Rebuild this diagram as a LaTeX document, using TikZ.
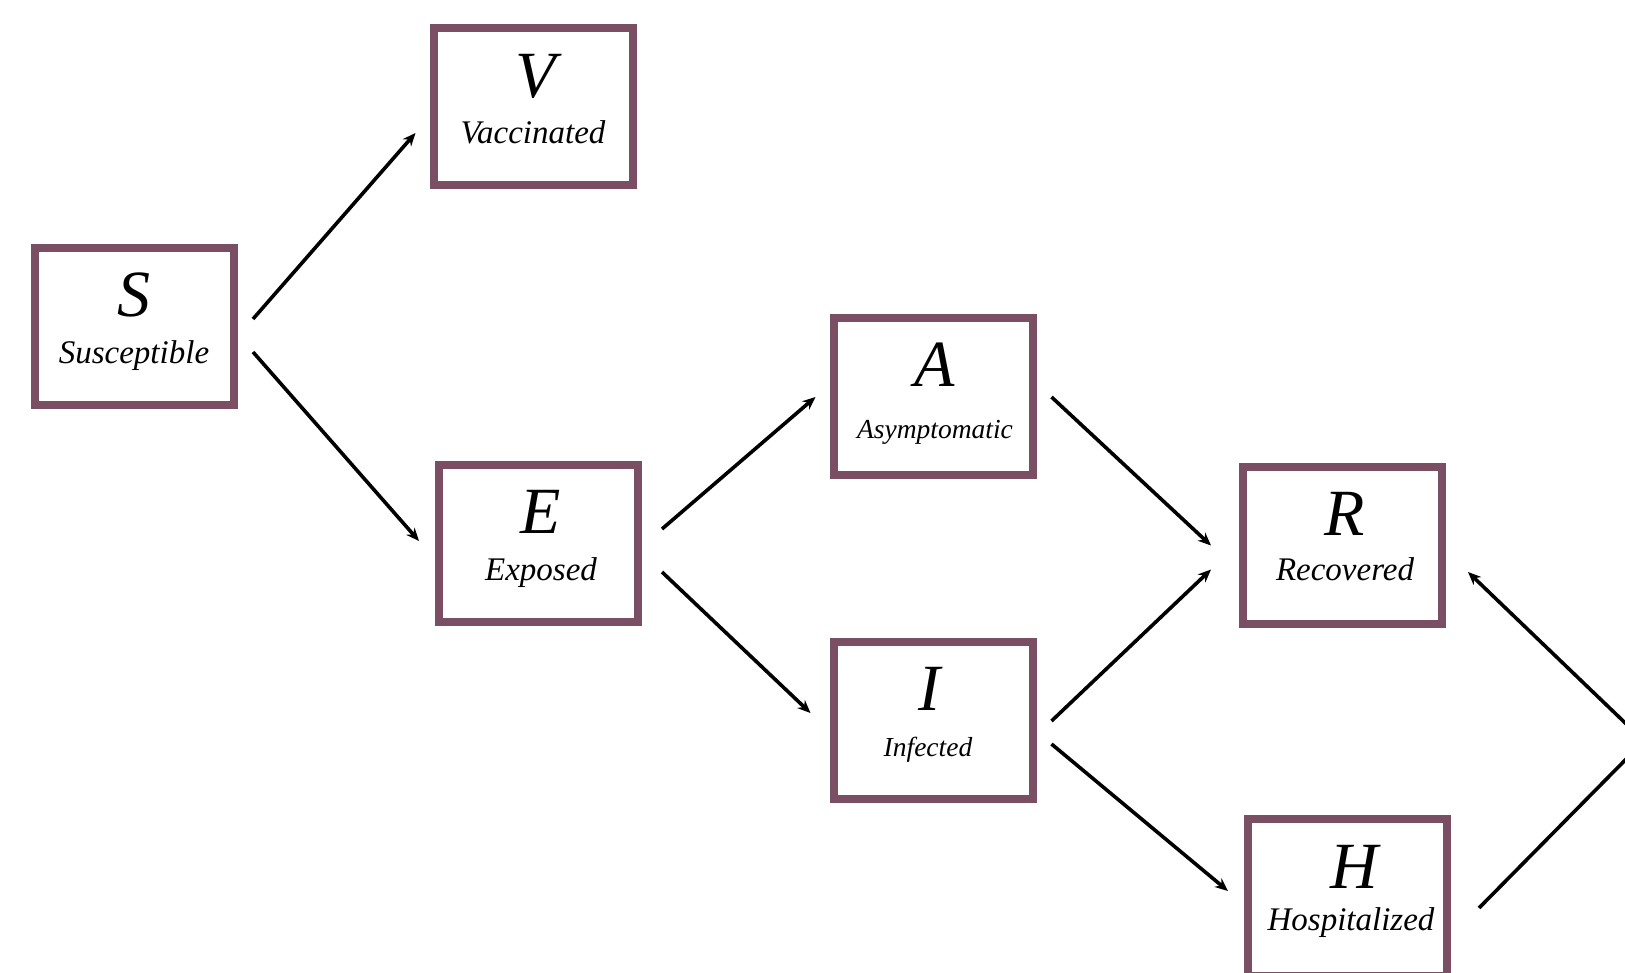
\documentclass[tikz,border=0pt]{standalone}
\usepackage{fontspec}
\setmainfont{Liberation Serif}
\usetikzlibrary{arrows.meta}
\definecolor{boxc}{RGB}{123,79,99}
\tikzset{
  comp/.style={draw=boxc, line width=8pt, fill=white, minimum width=199pt, minimum height=157pt, inner sep=0pt, outer sep=0pt},
  big/.style={anchor=base, inner sep=0pt, font=\fontsize{66}{70}\selectfont\itshape},
  sub/.style={anchor=base, inner sep=0pt, font=\fontsize{33}{36}\selectfont\itshape},
  subs/.style={anchor=base, inner sep=0pt, font=\fontsize{27.5}{30}\selectfont\itshape},
  flow/.style={line width=3.6pt, -{Stealth[length=13pt,width=11pt]}}
}
\begin{document}
\begin{tikzpicture}[x=1pt,y=-1pt]
\useasboundingbox (0,0) rectangle (1625,972);
\clip (0,0) rectangle (1625,972);
% compartments
\node[comp] (S) at (134.5,326) {};
\node[comp] (V) at (533,106) {};
\node[comp] (E) at (538.5,543) {};
\node[comp] (A) at (933,396) {};
\node[comp] (I) at (933,720) {};
\node[comp] (R) at (1342.5,545.5) {};
\node[comp] (H) at (1347.5,897) {};
% labels
\node[big] (St) at (134,316) {S};
\node[sub] (Ss) at (134,363) {Susceptible};
\node[big] (Vt) at (536,97) {V};
\node[sub] (Vs) at (533,143) {Vaccinated};
\node[big] (Et) at (541,533) {E};
\node[sub] (Es) at (541,580) {Exposed};
\node[big] (At) at (935,386) {A};
\node[subs] (As) at (935,438) {Asymptomatic};
\node[big] (It) at (929,710) {I};
\node[subs] (Is) at (928,756) {Infected};
\node[big] (Rt) at (1345,535) {R};
\node[sub] (Rs) at (1345,580) {Recovered};
\node[big] (Ht) at (1354,888) {H};
\node[sub] (Hs) at (1351,930) {Hospitalized};
% connectors
\draw[flow] ([xshift=19pt,yshift=7pt]S.east) -- ([xshift=-18pt,yshift=-27pt]V.west);
\draw[flow] ([xshift=19pt,yshift=-26pt]S.east) -- ([xshift=-20pt,yshift=2pt]E.west);
\draw[flow] ([xshift=24pt,yshift=14pt]E.east) -- ([xshift=-18pt,yshift=-1pt]A.west);
\draw[flow] ([xshift=24pt,yshift=-29pt]E.east) -- ([xshift=-23pt,yshift=7pt]I.west);
\draw[flow] ([xshift=19pt,yshift=-1pt]A.east) -- ([xshift=-32pt,yshift=0pt]R.west);
\draw[flow] ([xshift=19pt,yshift=-1pt]I.east) -- ([xshift=-32pt,yshift=-24pt]R.west);
\draw[flow] ([xshift=19pt,yshift=-24pt]I.east) -- ([xshift=-20pt,yshift=6pt]H.west);
\coordinate (peak) at (1644,741);
\draw[flow] ([xshift=32pt,yshift=-11pt]H.east) -- (peak) -- ([xshift=26pt,yshift=-26.5pt]R.east);
\end{tikzpicture}
\end{document}
